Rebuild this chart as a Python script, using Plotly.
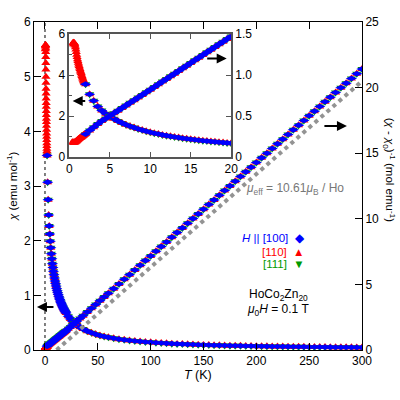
import plotly.graph_objects as go

# ---------------- data ----------------
T_COMMON = [2, 2.5, 3, 3.5, 4, 4.5, 5, 5.5, 6, 6.5, 7, 7.5, 8, 8.5, 9, 9.5, 10,
            10.5, 11, 11.5, 12, 12.5, 13, 13.5, 14, 14.5, 15, 15.5, 16, 16.5,
            17, 17.5, 18, 18.5, 19, 19.5, 20,
            22, 24, 26, 28, 30, 33, 36, 40, 44, 48, 52, 56, 60,
            65, 70, 75, 80, 85, 90, 95, 100, 105, 110, 115, 120, 125, 130,
            135, 140, 145, 150, 155, 160, 165, 170, 175, 180, 185, 190, 195,
            200, 205, 210, 215, 220, 225, 230, 235, 240, 245, 250, 255, 260,
            265, 270, 275, 280, 285, 290, 295, 300]

CHI_COMMON = [3.56, 3.07, 2.75, 2.47, 2.27, 2.12, 1.99, 1.87, 1.76, 1.67, 1.58, 1.51, 1.44, 1.375, 1.318, 1.264, 1.215,
              1.169, 1.126, 1.086, 1.049, 1.015, 0.982, 0.952, 0.923, 0.896, 0.871, 0.847, 0.824, 0.803,
              0.782, 0.763, 0.745, 0.727, 0.710, 0.694, 0.679,
              0.619, 0.569, 0.526, 0.4895, 0.4577, 0.4168, 0.3828, 0.3452, 0.3143, 0.2884, 0.2665, 0.2477, 0.2314,
              0.2138, 0.1987, 0.1856, 0.1741, 0.1639, 0.1549, 0.1468, 0.1395, 0.1329, 0.1269, 0.1214, 0.1164, 0.1117, 0.1075,
              0.1035, 0.0998, 0.0964, 0.0932, 0.0902, 0.0874, 0.0848, 0.0823, 0.0799, 0.0777, 0.0756, 0.0737, 0.0718,
              0.0700, 0.0683, 0.0667, 0.0651, 0.0636, 0.0622, 0.0609, 0.0596, 0.0584, 0.0572, 0.0560, 0.0549, 0.0539,
              0.0529, 0.0519, 0.0509, 0.0500, 0.0492, 0.0483, 0.0475, 0.0467]

INV_COMMON = [0.281, 0.326, 0.364, 0.405, 0.440, 0.472, 0.503, 0.535, 0.567, 0.599, 0.631, 0.663, 0.695, 0.727, 0.759, 0.791, 0.823,
              0.856, 0.888, 0.921, 0.953, 0.986, 1.018, 1.051, 1.083, 1.116, 1.148, 1.181, 1.213, 1.246,
              1.278, 1.311, 1.343, 1.376, 1.408, 1.441, 1.473,
              1.615, 1.758, 1.900, 2.043, 2.185, 2.399, 2.612, 2.897, 3.182, 3.467, 3.752, 4.037, 4.321,
              4.677, 5.033, 5.389, 5.745, 6.101, 6.457, 6.813, 7.169, 7.525, 7.881, 8.237, 8.593, 8.949, 9.305,
              9.661, 10.017, 10.373, 10.729, 11.085, 11.441, 11.797, 12.153, 12.509, 12.865, 13.221, 13.577, 13.933,
              14.289, 14.645, 15.001, 15.357, 15.713, 16.069, 16.425, 16.781, 17.137, 17.493, 17.849, 18.205, 18.561,
              18.917, 19.273, 19.629, 19.985, 20.341, 20.697, 21.053, 21.409]

# extra low-temperature points measured only for H || [110]
T_LOW_110 = [0.35, 0.4, 0.45, 0.5, 0.55, 0.6,
             0.65, 0.7, 0.75, 0.8, 0.85, 0.9, 0.95, 1.0,
             1.05, 1.1, 1.15, 1.2, 1.25, 1.3, 1.35, 1.4, 1.45, 1.5,
             1.55, 1.6, 1.65, 1.7, 1.75, 1.8, 1.85, 1.9]
CHI_LOW_110 = [5.50, 5.55, 5.57, 5.58, 5.58, 5.57,
               5.52, 5.45, 5.36, 5.25, 5.13, 5.00, 4.89, 4.78,
               4.69, 4.60, 4.52, 4.45, 4.37, 4.30, 4.23, 4.17, 4.10, 4.03,
               3.96, 3.90, 3.84, 3.78, 3.73, 3.68, 3.64, 3.60]
INV_LOW_110 = [0.182, 0.180, 0.180, 0.179, 0.179, 0.180,
               0.181, 0.183, 0.187, 0.190, 0.195, 0.200, 0.204, 0.209,
               0.213, 0.217, 0.221, 0.225, 0.229, 0.233, 0.236, 0.240, 0.244, 0.248,
               0.253, 0.256, 0.260, 0.265, 0.268, 0.272, 0.275, 0.278]

# Curie-Weiss fit line (mu_eff = 10.61 mu_B / Ho)
T_FIT = [11, 300]
INV_FIT = [0, 20.5]

SERIES = [
    # name, colour, symbol, size, T, chi, inverse
    ("[111]", "#009a00", "triangle-down", 8, T_COMMON, CHI_COMMON, INV_COMMON),
    ("[110]", "#ff0000", "triangle-up", 8, T_LOW_110 + T_COMMON, CHI_LOW_110 + CHI_COMMON, INV_LOW_110 + INV_COMMON),
    ("[100]", "#0000ff", "diamond-wide", 8, T_COMMON, CHI_COMMON, INV_COMMON),
]

fig = go.Figure()

# fit line on main right axis
fig.add_trace(go.Scatter(x=T_FIT, y=INV_FIT, mode="lines", xaxis="x", yaxis="y2",
                         line=dict(color="#939393", width=4, dash="4px,4px"), hoverinfo="skip"))

for name, col, sym, sz, t, chi, inv in SERIES:
    mk = dict(color=col, symbol=sym, size=sz, line=dict(width=0))
    fig.add_trace(go.Scatter(x=t, y=chi, mode="markers", marker=mk, xaxis="x", yaxis="y", name=name))
    fig.add_trace(go.Scatter(x=t, y=inv, mode="markers", marker=mk, xaxis="x", yaxis="y2", name=name))
for name, col, sym, sz, t, chi, inv in SERIES:
    mk = dict(color=col, symbol=sym, size=sz, line=dict(width=0))
    fig.add_trace(go.Scatter(x=t, y=chi, mode="markers", marker=mk, xaxis="x2", yaxis="y3", name=name))
    fig.add_trace(go.Scatter(x=t, y=inv, mode="markers", marker=mk, xaxis="x2", yaxis="y4", name=name))

FONT = "Liberation Sans, Arial, sans-serif"
main_ax = dict(showgrid=False, zeroline=False, showline=True, linecolor="black", linewidth=1,
               ticks="inside", ticklen=7, tickcolor="black", tickwidth=1)
inset_ax = dict(showgrid=False, zeroline=False, showline=True, linecolor="#555555", linewidth=1.5,
                ticks="inside", ticklen=5, tickcolor="#555555", tickwidth=1.2)

fig.update_layout(
    width=400, height=400,
    margin=dict(l=34, r=38, t=22, b=50),
    paper_bgcolor="white", plot_bgcolor="white",
    showlegend=False,
    font=dict(family=FONT, size=12, color="black"),
    xaxis=dict(main_ax, domain=[0, 1], range=[-10.4, 300], tickvals=[0, 50, 100, 150, 200, 250, 300],
               mirror="ticks", anchor="y"),
    yaxis=dict(main_ax, range=[0, 6], tickvals=[0, 1, 2, 3, 4, 5, 6], anchor="x"),
    yaxis2=dict(main_ax, range=[0, 25], tickvals=[0, 5, 10, 15, 20, 25], overlaying="y", side="right", anchor="x"),
    xaxis2=dict(inset_ax, domain=[0.108, 0.601], range=[0, 20], tickvals=[0, 5, 10, 15, 20],
                mirror="ticks", anchor="y3"),
    yaxis3=dict(inset_ax, domain=[0.588, 0.963], range=[0, 6], tickvals=[0, 2, 4, 6], anchor="x2",
                minor=dict(dtick=1, ticks="inside", ticklen=3, tickcolor="#555555")),
    yaxis4=dict(inset_ax, range=[0, 1.5], tickvals=[0, 0.5, 1.0, 1.5], ticktext=["0", "0.5", "1.0", "1.5"],
                overlaying="y3", side="right", anchor="x2"),
)

# dotted reference line at T = 0
fig.add_shape(type="line", xref="x", yref="y", x0=0, x1=0, y0=0, y1=6,
              line=dict(color="black", width=1, dash="dot"), layer="below")

ann = []
def txt(x, y, s, color="black", size=12, angle=0, xanchor="center"):
    ann.append(dict(x=x, y=y, xref="paper", yref="paper", text=s, showarrow=False,
                    font=dict(color=color, size=size, family=FONT), textangle=angle,
                    xanchor=xanchor, yanchor="middle"))

def arrow(x, y, ax):
    ann.append(dict(x=x, y=y, xref="paper", yref="paper", ax=ax, ay=0, text="", showarrow=True,
                    arrowhead=2, arrowsize=1, arrowwidth=2, arrowcolor="black"))

txt(0.5, -0.076, "<i>T</i> (K)", size=12.5)
txt(-0.067, 0.50, "<i>χ</i> (emu mol<sup>-1</sup>)", angle=-90, size=11.5)
txt(1.085, 0.55, "(<i>χ</i> - <i>χ</i><sub>0</sub>)<sup>-1</sup> (mol emu<sup>-1</sup>)", angle=90, size=11.5)
txt(0.796, 0.491, "<i>μ</i><sub>eff</sub> = 10.61<i>μ</i><sub>B</sub> / Ho", color="#777777", size=12)
txt(0.832, 0.341, "<i>H</i> || [100]  ◆", color="#0000ff", xanchor="right", size=11.5)
txt(0.832, 0.299, "[110]  ▲", color="#ff0000", xanchor="right", size=11.5)
txt(0.832, 0.262, "[111]  ▼", color="#009a00", xanchor="right", size=11.5)
txt(0.744, 0.168, "HoCo<sub>2</sub>Zn<sub>20</sub>")
txt(0.744, 0.122, "<i>μ</i><sub>0</sub><i>H</i> = 0.1 T")

arrow(0.009, 0.131, 18)
arrow(0.954, 0.683, -24)
arrow(0.118, 0.759, 14)
arrow(0.5875, 0.889, -21)

fig.update_layout(annotations=ann)
fig.write_html("out.html")
